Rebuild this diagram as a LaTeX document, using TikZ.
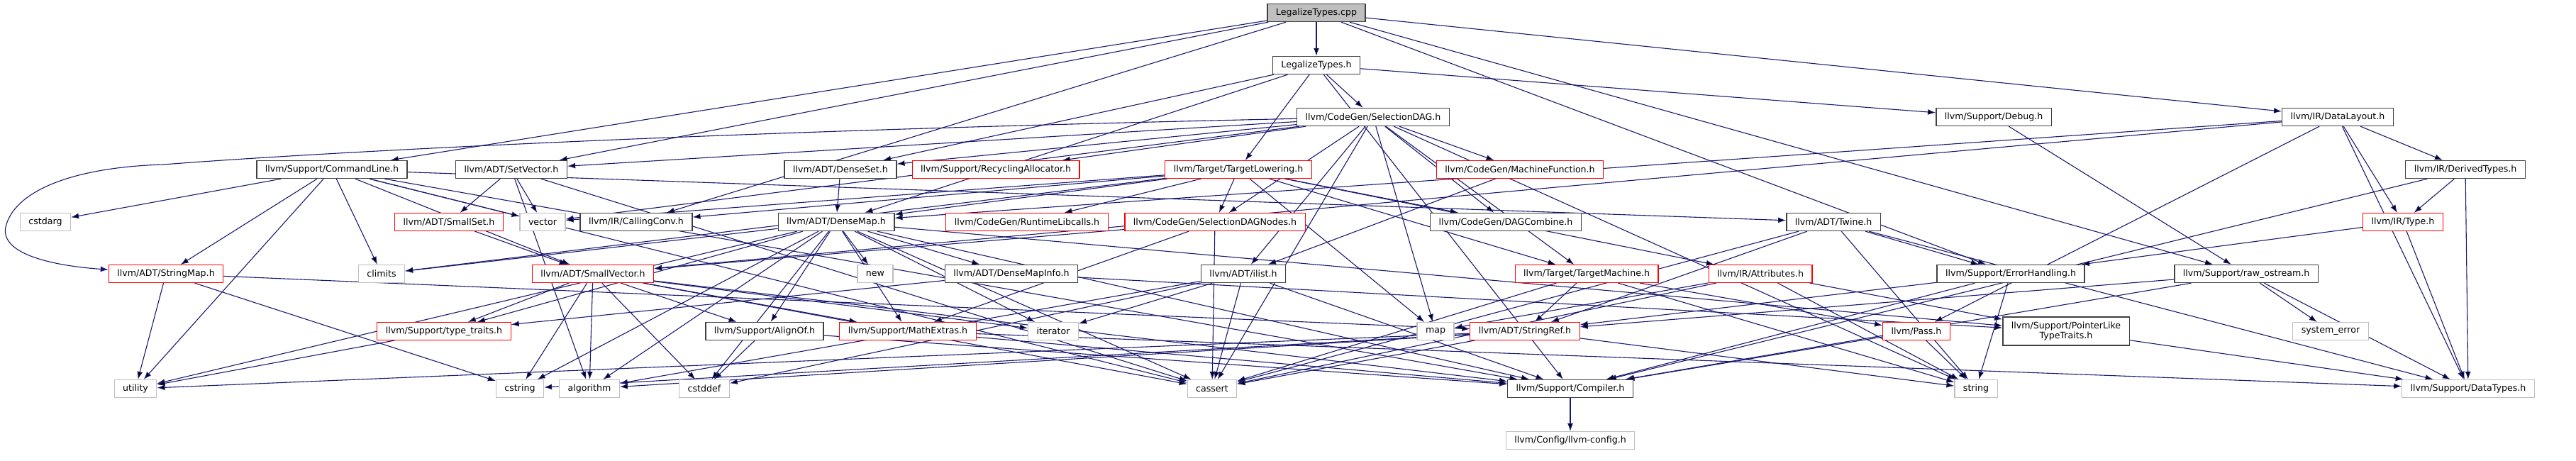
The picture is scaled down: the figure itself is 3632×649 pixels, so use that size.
\documentclass[tikz,border=0pt]{standalone}
\usepackage{fontspec}
\setmainfont{DejaVu Sans}
\usetikzlibrary{arrows.meta}
\definecolor{edgeblue}{HTML}{191970}
\definecolor{boxgray}{HTML}{404040}
\definecolor{sysgray}{HTML}{BFBFBF}
\pgfdeclarelayer{bg}
\pgfsetlayers{bg,main}
\tikzset{
  hdr/.style   = {rectangle, draw=boxgray, line width=1.4pt, fill=white, inner xsep=12pt, inner ysep=0pt,
                  minimum height=25pt, font=\fontsize{12.6}{14.5}\selectfont, align=center},
  trunc/.style = {hdr, draw=red, line width=1.1pt},
  sys/.style   = {hdr, draw=sysgray, line width=1.1pt},
  root/.style  = {hdr, fill=sysgray},
  inc/.style   = {draw=edgeblue, line width=1.1pt, -{Latex[length=11pt,width=8pt]}}
}
\begin{document}
\begin{tikzpicture}[x=1pt,y=-1pt]
  \useasboundingbox (0,0) rectangle (3632,649);
  % rank 0 - 2
  \node[root]  (cpp)  at (1856, 18) {LegalizeTypes.cpp};
  \node[hdr]   (lth)  at (1856, 92) {LegalizeTypes.h};
  \node[hdr]   (sdag) at (1936,165) {llvm/CodeGen/SelectionDAG.h};
  \node[hdr]   (dbg)  at (2811,165) {llvm/Support/Debug.h};
  \node[hdr]   (dl)   at (3296,165) {llvm/IR/DataLayout.h};
  % rank 3
  \node[hdr]   (cl)   at ( 468,239) {llvm/Support/CommandLine.h};
  \node[hdr]   (sv)   at ( 721,239) {llvm/ADT/SetVector.h};
  \node[hdr]   (dset) at (1185,239) {llvm/ADT/DenseSet.h};
  \node[trunc] (ra)   at (1404,239) {llvm/Support/RecyclingAllocator.h};
  \node[trunc] (tl)   at (1746,239) {llvm/Target/TargetLowering.h};
  \node[trunc] (mf)   at (2143,239) {llvm/CodeGen/MachineFunction.h};
  \node[hdr]   (dt)   at (3476,239) {llvm/IR/DerivedTypes.h};
  % rank 4
  \node[sys]   (cstdarg) at (64,313) {cstdarg};
  \node[trunc] (sset) at ( 633,313) {llvm/ADT/SmallSet.h};
  \node[sys]   (vector) at (765,313) {vector};
  \node[hdr]   (cc)   at ( 897,313) {llvm/IR/CallingConv.h};
  \node[hdr]   (dmap) at (1179,313) {llvm/ADT/DenseMap.h};
  \node[trunc] (rtl)  at (1448,313) {llvm/CodeGen/RuntimeLibcalls.h};
  \node[trunc] (sdn)  at (1713,313) {llvm/CodeGen/SelectionDAGNodes.h};
  \node[hdr]   (dc)   at (2123,313) {llvm/CodeGen/DAGCombine.h};
  \node[hdr]   (tw)   at (2585,313) {llvm/ADT/Twine.h};
  \node[trunc] (ty)   at (3388,313) {llvm/IR/Type.h};
  % rank 5
  \node[trunc] (smap) at ( 234,386) {llvm/ADT/StringMap.h};
  \node[sys]   (climits) at (538,386) {climits};
  \node[trunc] (svec) at ( 836,386) {llvm/ADT/SmallVector.h};
  \node[sys]   (new)  at (1234,386) {new};
  \node[hdr]   (dmi)  at (1426,386) {llvm/ADT/DenseMapInfo.h};
  \node[hdr]   (il)   at (1753,386) {llvm/ADT/ilist.h};
  \node[trunc] (tm)   at (2237,386) {llvm/Target/TargetMachine.h};
  \node[trunc] (attr) at (2482,386) {llvm/IR/Attributes.h};
  \node[hdr]   (eh)   at (2835,386) {llvm/Support/ErrorHandling.h};
  \node[hdr]   (ros)  at (3167,386) {llvm/Support/raw\_ostream.h};
  % rank 6
  \node[trunc] (tt)   at ( 626,467) {llvm/Support/type\_traits.h};
  \node[hdr]   (ao)   at (1078,467) {llvm/Support/AlignOf.h};
  \node[trunc] (me)   at (1280,467) {llvm/Support/MathExtras.h};
  \node[sys]   (iterator) at (1485,467) {iterator};
  \node[sys]   (map)  at (2024,467) {map};
  \node[trunc] (sref) at (2150,467) {llvm/ADT/StringRef.h};
  \node[trunc] (pass) at (2702,467) {llvm/Pass.h};
  \node[hdr, minimum height=40pt] (pltt) at (2913,467) {llvm/Support/PointerLike\\TypeTraits.h};
  \node[sys]   (syserr) at (3286,467) {system\_error};
  % rank 7 - 8
  \node[sys]   (utility) at (191,548) {utility};
  \node[sys]   (cstring) at (733,548) {cstring};
  \node[sys]   (algorithm) at (831,548) {algorithm};
  \node[sys]   (cstddef) at (993,548) {cstddef};
  \node[sys]   (cassert) at (1709,548) {cassert};
  \node[hdr]   (comp) at (2214,548) {llvm/Support/Compiler.h};
  \node[sys]   (string) at (2786,548) {string};
  \node[sys]   (dtypes) at (3480,548) {llvm/Support/DataTypes.h};
  \node[sys]   (cfg)  at (2214,621) {llvm/Config/llvm-config.h};

  \begin{pgfonlayer}{bg}
    \path[inc] (cpp) edge (lth) edge (cl) edge (sv) edge (cc) edge (dl) edge (eh) edge (ros);
    \path[inc] (lth) edge (sdag) edge (dmap) edge (dset) edge (comp) edge (dbg) edge (tl);
    \path[inc] (sdag) edge (dset) edge (sv) edge (il) edge (dc) edge (mf) edge (sdn)
                      edge (ra) edge (tm) edge (cassert) edge (map) edge (string) edge (vector);
    % StringMap is reached round the left edge
    \draw[inc] (sdag) .. controls (1000,185) and (450,215) .. (230,232)
                      .. controls (100,236) and (20,270) .. (8,320)
                      .. controls (0,360) and (80,375) .. (smap);
    \path[inc] (tl) edge (dmap) edge (dc) edge (rtl) edge (sdn) edge (attr) edge (cc) edge (tm)
                    edge (climits) edge (map) edge (vector);
    \path[inc] (dbg) edge (ros);
    \path[inc] (dl) edge (dmap) edge (svec) edge (dt) edge (ty) edge (pass) edge (dtypes);
    \path[inc] (cl) edge (svec) edge (smap) edge (tw) edge (comp) edge (cassert) edge (climits)
                    edge (cstdarg) edge (utility) edge (vector);
    \path[inc] (sv) edge (sset) edge (algorithm) edge (cassert) edge (vector);
    \path[inc] (dset) edge (dmap);
    \path[inc] (mf) edge (il);
    \path[inc] (dt) edge (ty) edge (comp) edge (dtypes);
    \path[inc] (sset) edge (svec);
    \path[inc] (dmap) edge (dmi) edge (ao) edge (comp) edge (me) edge (pltt) edge (tt) edge (algorithm)
                      edge (cassert) edge (climits) edge (cstddef) edge (cstring) edge (iterator)
                      edge (new) edge (utility);
    \path[inc] (sdn) edge (svec) edge (me) edge (cassert);
    \path[inc] (tw) edge (sref) edge (dtypes) edge (eh) edge (cassert) edge (string);
    \path[inc] (ty) edge (dtypes) edge (eh);
    \path[inc] (smap) edge (sref) edge (cstring) edge (utility);
    \path[inc] (svec) edge (ao) edge (comp) edge (me) edge (tt) edge (algorithm) edge (cassert)
                      edge (cstddef) edge (cstring) edge (iterator);
    \path[inc] (dmi) edge (pltt) edge (tt);
    \path[inc] (il) edge (algorithm) edge (cassert) edge (cstddef) edge (iterator) edge (comp);
    \path[inc] (tm) edge (sref) edge (pass) edge (cassert) edge (string);
    \path[inc] (attr) edge (pltt) edge (cassert) edge (map) edge (string);
    \path[inc] (eh) edge (sref) edge (comp) edge (string);
    \path[inc] (ros) edge (sref) edge (comp) edge (dtypes) edge (syserr);
    \path[inc] (tt) edge (utility);
    \path[inc] (ao) edge (comp) edge (cstddef);
    \path[inc] (me) edge (comp) edge (dtypes);
    \path[inc] (sref) edge (algorithm) edge (cassert) edge (cstring) edge (string) edge (utility);
    \path[inc] (pass) edge (comp) edge (string);
    \path[inc] (pltt) edge (dtypes);
    \path[inc] (comp) edge (cfg);
  \end{pgfonlayer}
\end{tikzpicture}
\end{document}
